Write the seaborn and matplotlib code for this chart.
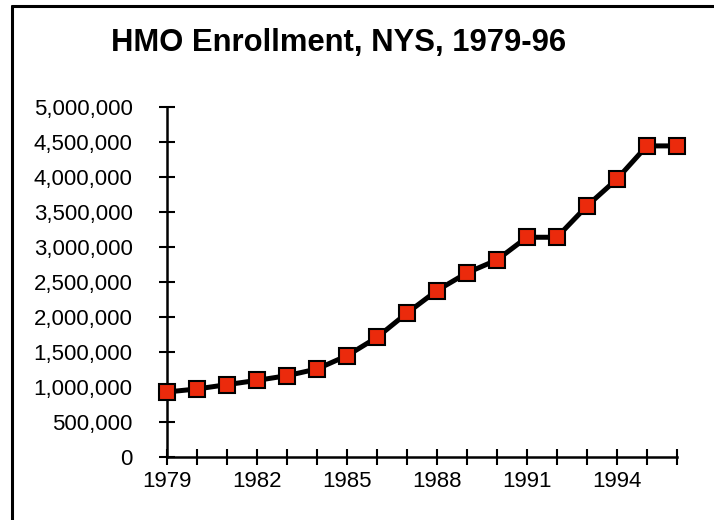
import numpy as np
import pandas as pd
import seaborn as sns
import matplotlib.pyplot as plt
import matplotlib.ticker as ticker
from matplotlib.lines import Line2D

# data
years = [1979, 1980, 1981, 1982, 1983, 1984, 1985, 1986, 1987,
         1988, 1989, 1990, 1991, 1992, 1993, 1994, 1995, 1996]
enrollment = [924000, 967000, 1029000, 1090000, 1157000, 1253000, 1443000, 1705000, 2053000,
              2376000, 2629000, 2814000, 3139000, 3139000, 3586000, 3971000, 4447000, 4447000]
year_labels = [1979, 1982, 1985, 1988, 1991, 1994]
y_ticks = list(range(0, 5000001, 500000))

df = pd.DataFrame({"year": years, "enrollment": enrollment})

sns.set_style("ticks")
plt.rcParams['font.family'] = ['Liberation Sans', 'DejaVu Sans']

fig = plt.figure(figsize=(7.14, 5.2), dpi=100)
ax = fig.add_axes([0.2339, 0.1221, 0.948 - 0.2339, 0.7937 - 0.1221])

sns.lineplot(data=df, x="year", y="enrollment", ax=ax, color="black", lw=3.6,
             marker="s", markersize=12, markerfacecolor="#EB2A0C",
             markeredgecolor="black", markeredgewidth=1.5, clip_on=False, zorder=5)

ax.set_xlim(1979, 1996)
ax.set_ylim(0, 5000000)
ax.set_xticks(years, minor=False)
ax.set_xticklabels([str(y) if y in year_labels else "" for y in years])
ax.set_yticks(y_ticks)
ax.yaxis.set_major_formatter(ticker.FuncFormatter(lambda v, p: f"{int(v):,}"))
ax.set_xlabel("")
ax.set_ylabel("")

sns.despine(ax=ax)
for s in ["left", "bottom"]:
    ax.spines[s].set_linewidth(1.8)
    ax.spines[s].set_color("black")
ax.tick_params(axis="both", direction="inout", length=11.5, width=1.5, color="black",
               labelsize=16, labelcolor="black")
ax.tick_params(axis="y", pad=19)
ax.tick_params(axis="x", pad=4.5)

fig.text(0.474, 1 - 51 / 520, "HMO Enrollment, NYS, 1979-96", ha="center", va="baseline",
         fontsize=22.3, fontweight="bold", color="black")

# frame lines at top and left of the picture
fig.add_artist(Line2D([12 / 714, 1.0], [1 - 6 / 520, 1 - 6 / 520], color="black", lw=2.2,
                      transform=fig.transFigure))
fig.add_artist(Line2D([12 / 714, 12 / 714], [0.0, 1 - 6 / 520], color="black", lw=2.2,
                      transform=fig.transFigure))

fig.savefig("out.png", dpi=100, facecolor="white")
